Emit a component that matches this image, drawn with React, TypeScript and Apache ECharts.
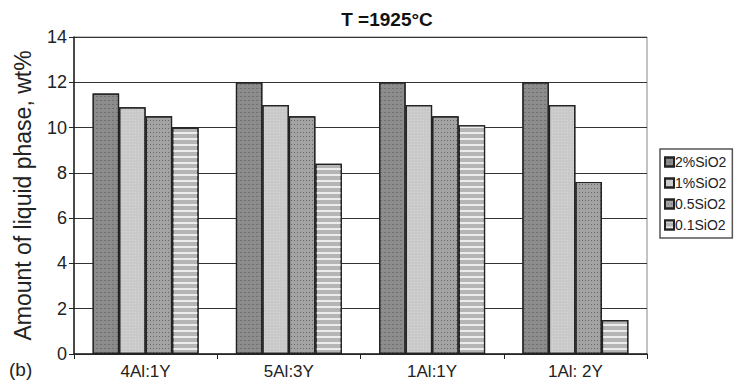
import React, { useEffect, useRef } from "react";
import * as echarts from "echarts";

const categories = ["4Al:1Y", "5Al:3Y", "1Al:1Y", "1Al: 2Y"];
const seriesNames = ["2%SiO2", "1%SiO2", "0.5SiO2", "0.1SiO2"];
const s2 = [11.5, 12.0, 12.0, 12.0];
const s1 = [10.9, 11.0, 11.0, 11.0];
const s05 = [10.5, 10.5, 10.5, 7.6];
const s01 = [10.0, 8.4, 10.1, 1.5];
const yTicks = [0, 2, 4, 6, 8, 10, 12, 14];

const colors = ["#8c8c8c", "#c9c9c9", "#a3a3a3", "#b5b5b5"];
const decals: any[] = [
  { symbol: "rect", symbolSize: 1, dashArrayX: [2, 2], dashArrayY: [1, 3], color: "rgba(60,60,60,0.35)", rotation: 0 },
  { symbol: "rect", symbolSize: 1, dashArrayX: [1, 2], dashArrayY: [1, 2], color: "rgba(255,255,255,0.25)", rotation: 0 },
  { symbol: "rect", symbolSize: 1, dashArrayX: [1, 2], dashArrayY: [1, 3], color: "rgba(50,50,50,0.5)", rotation: 0 },
  { symbol: "rect", symbolSize: 1, dashArrayX: [1, 0], dashArrayY: [2, 4], color: "rgba(255,255,255,0.75)", rotation: 0 },
];

export default function App() {
  const ref = useRef<HTMLDivElement>(null);
  useEffect(() => {
    document.body.style.margin = "0";
    const chart = echarts.init(ref.current!, null, { renderer: "svg" });
    const data = [s2, s1, s05, s01];
    chart.setOption({
      animation: false,
      backgroundColor: "#ffffff",
      textStyle: { fontFamily: "Liberation Sans, Arial, sans-serif" },
      title: {
        text: "T =1925°C",
        left: 382,
        textAlign: "center",
        top: 5,
        textStyle: { fontSize: 19, fontWeight: "bold", color: "#111" },
      },
      legend: {
        orient: "vertical",
        left: 660,
        top: 149,
        itemWidth: 9,
        itemHeight: 9,
        itemGap: 7,
        padding: [6, 6, 6, 4],
        borderColor: "#555",
        borderWidth: 1.5,
        textStyle: { fontSize: 14, color: "#222", padding: [0, 0, 0, -4] },
        icon: "rect",
        data: seriesNames,
      },
      grid: { left: 74, right: 92, top: 37, bottom: 32, containLabel: false },
      xAxis: {
        type: "category",
        data: categories,
        axisLine: { lineStyle: { color: "#222", width: 1.5 } },
        axisTick: { show: true, length: 5, lineStyle: { color: "#222" } },
        axisLabel: { fontSize: 17, color: "#222", margin: 9 },
        splitLine: { show: false },
      },
      yAxis: {
        type: "value",
        min: 0,
        max: 14,
        interval: 2,
        name: "Amount of liquid phase, wt%",
        nameLocation: "middle",
        nameGap: 40,
        nameTextStyle: { fontSize: 23, color: "#222" },
        axisLine: { show: true, lineStyle: { color: "#222", width: 1.5 } },
        axisTick: { show: true, length: 5, lineStyle: { color: "#222" } },
        axisLabel: {
          fontSize: 18,
          color: "#222",
          margin: 7,
          formatter: (v: number) => (yTicks.includes(v) ? String(v) : ""),
        },
        splitLine: { show: true, lineStyle: { color: "#333", width: 1 } },
      },
      graphic: [
        {
          type: "text",
          left: 9,
          top: 360,
          style: { text: "(b)", fontSize: 19, fill: "#222", fontFamily: "Liberation Sans, Arial, sans-serif" },
        },
        {
          type: "rect",
          shape: { x: 74, y: 37, width: 573, height: 317 },
          style: { fill: "none", stroke: "#888", lineWidth: 1 },
          silent: true,
        },
      ],
      series: seriesNames.map((name, i) => ({
        name,
        type: "bar",
        data: data[i],
        barGap: "0%",
        barCategoryGap: "26%",
        itemStyle: {
          color: colors[i],
          borderColor: "#222",
          borderWidth: 1.2,
          decal: decals[i],
        },
      })),
      aria: { enabled: false, decal: { show: true } },
    });
    return () => chart.dispose();
  }, []);
  return <div ref={ref} style={{ width: 739, height: 386 }} />;
}
